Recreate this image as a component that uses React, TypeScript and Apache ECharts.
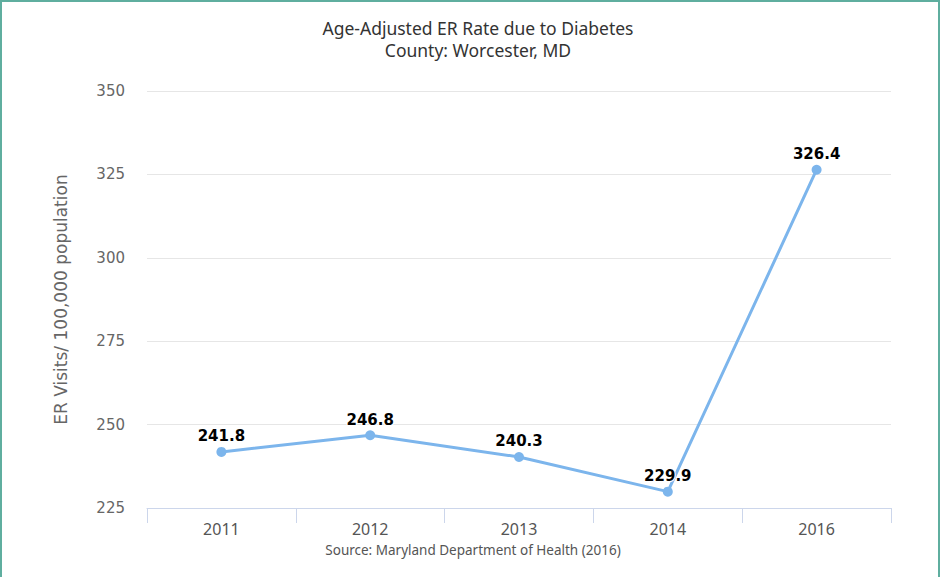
import React, { useEffect, useRef } from "react";
import * as echarts from "echarts";

const years = ["2011", "2012", "2013", "2014", "2016"];
const rates = [241.8, 246.8, 240.3, 229.9, 326.4];
const titleLines = ["Age-Adjusted ER Rate due to Diabetes", "County: Worcester, MD"];
const yAxisTitle = "ER Visits/ 100,000 population";
const sourceText = "Source: Maryland Department of Health (2016)";

const FONT = "'Noto Sans', 'Open Sans', sans-serif";
const WIDE = "'DejaVu Sans', 'Noto Sans', sans-serif";

export default function App() {
  const ref = useRef<HTMLDivElement>(null);
  useEffect(() => {
    if (!ref.current) return;
    const chart = echarts.init(ref.current, undefined, { renderer: "svg" });
    chart.setOption({
      animation: false,
      backgroundColor: "#ffffff",
      textStyle: { fontFamily: FONT },
      title: {
        text: titleLines.join("\n"),
        left: 473,
        textAlign: "center",
        top: 12,
        textStyle: { fontFamily: FONT, fontSize: 17.5, fontWeight: "normal", color: "#333333", lineHeight: 22 },
      },
      grid: { left: 147, right: 50, top: 91, bottom: 69, containLabel: false },
      xAxis: {
        type: "category",
        data: years,
        boundaryGap: true,
        axisLine: { show: true, lineStyle: { color: "#ccd6eb", width: 1 } },
        axisTick: { show: true, length: 15, lineStyle: { color: "#ccd6eb" } },
        axisLabel: { color: "#555555", fontSize: 16, margin: 13, fontFamily: FONT },
        splitLine: { show: false },
      },
      yAxis: {
        type: "value",
        min: 225,
        max: 350,
        interval: 25,
        name: yAxisTitle,
        nameLocation: "middle",
        nameGap: 78,
        nameRotate: 90,
        nameTextStyle: { color: "#666666", fontSize: 17, fontFamily: WIDE },
        axisLine: { show: false },
        axisTick: { show: false },
        axisLabel: { color: "#666666", fontSize: 15, margin: 22, fontFamily: WIDE },
        splitLine: { show: true, lineStyle: { color: "#e6e6e6", width: 1 } },
      },
      series: [
        {
          type: "line",
          data: rates,
          symbol: "circle",
          symbolSize: 10,
          lineStyle: { color: "#7cb5ec", width: 3 },
          itemStyle: { color: "#7cb5ec" },
          label: {
            show: true,
            position: "top",
            distance: 3,
            color: "#000000",
            fontSize: 15,
            fontWeight: "bold",
            fontFamily: WIDE,
            textBorderColor: "#ffffff",
            textBorderWidth: 2,
          },
          z: 3,
        },
      ],
      graphic: [
        {
          type: "text",
          x: 473,
          y: 550,
          style: {
            text: sourceText,
            fill: "#555555",
            fontSize: 13.5,
            fontFamily: FONT,
            textAlign: "center",
            textVerticalAlign: "middle",
          },
        },
        {
          type: "rect",
          shape: { x: 1, y: 1, width: 938, height: 600 },
          style: { fill: "none", stroke: "#5fae9f", lineWidth: 2 },
          silent: true,
          z: 100,
        },
      ],
    });
    return () => chart.dispose();
  }, []);
  return (
    <div style={{ position: "fixed", left: 0, top: 0, width: 941, height: 577 }}>
      <div ref={ref} style={{ width: 941, height: 577 }} />
    </div>
  );
}
